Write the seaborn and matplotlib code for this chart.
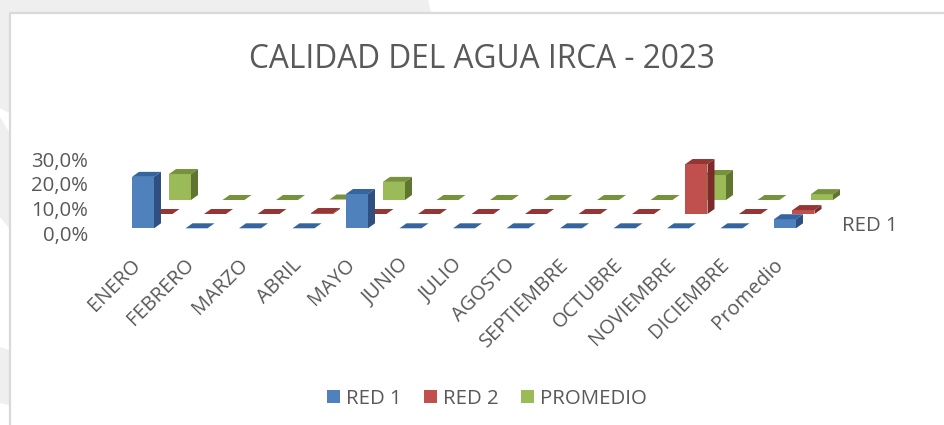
import matplotlib
matplotlib.use("Agg")
import matplotlib.pyplot as plt
from matplotlib.patches import Polygon, Rectangle
import pandas as pd
import seaborn as sns

months = ["ENERO", "FEBRERO", "MARZO", "ABRIL", "MAYO", "JUNIO", "JULIO", "AGOSTO",
          "SEPTIEMBRE", "OCTUBRE", "NOVIEMBRE", "DICIEMBRE", "Promedio"]
red1 = [21.0, 0, 0, 0, 14.0, 0, 0, 0, 0, 0, 0, 0, 3.7]
red2 = [0, 0, 0, 0.4, 0, 0, 0, 0, 0, 0, 20.4, 0, 1.6]
promedio = [10.6, 0, 0, 0.2, 7.4, 0, 0, 0, 0, 0, 10.2, 0, 2.4]
series_names = ["RED 1", "RED 2", "PROMEDIO"]
y_ticks = [0, 10, 20, 30]
y_labels = ["0,0%", "10,0%", "20,0%", "30,0%"]
title = "CALIDAD DEL AGUA IRCA - 2023"
depth_label = "RED 1"

W, H = 945, 425
sns.set_theme(style="white")
plt.rcParams["font.family"] = ["Open Sans", "DejaVu Sans"]
TXT = "#595959"
fig = plt.figure(figsize=(W / 100, H / 100), dpi=100, facecolor="white")

# page background and chart frame
bg = fig.add_axes([0, 0, 1, 1], zorder=0)
bg.set_xlim(0, W); bg.set_ylim(H, 0); bg.axis("off")
GREY = "#efefef"
bg.add_patch(Polygon([(0, 0), (428, 0), (431, 12), (0, 12)], fc=GREY, ec="none"))
bg.add_patch(Polygon([(0, 12), (9, 12), (9, 113), (0, 108)], fc=GREY, ec="none"))
bg.add_patch(Polygon([(0, 117), (9, 132), (9, 228), (0, 217)], fc=GREY, ec="none"))
bg.add_patch(Polygon([(0, 347), (9, 350), (9, 405), (0, 403)], fc=GREY, ec="none"))
bg.plot([9.5, 9.5, W], [H, 12.5, 12.5], color="#d9d9d9", lw=1.6)

BAND = 53.5
PX_PER_UNIT = 2.45
X0 = 116.25
BAR = 22
DX, DY = 7, 5
layers = [
    (promedio, "PROMEDIO", 37, 200, "#9bbb59", "#76923c", "#5f7530"),
    (red2, "RED 2", 18.5, 214, "#c0504d", "#963634", "#7b2c2a"),
    (red1, "RED 1", 0, 228.3, "#4f81bd", "#35659f", "#2f4f7f"),
]
handles = {}
for z, (vals, name, xo, base, front, top, side) in enumerate(layers, start=1):
    ax = fig.add_axes([(X0 + xo) / W, (H - base) / H, 13 * BAND / W, 30 * PX_PER_UNIT / H],
                      zorder=z, facecolor="none")
    df = pd.DataFrame({"m": months, "v": vals})
    sns.barplot(data=df, x="m", y="v", color=front, saturation=1, width=BAR / BAND,
                linewidth=0, edgecolor="none", ax=ax, legend=False)
    ax.set_xlim(-0.5, 12.5); ax.set_ylim(0, 30)
    ax.set_xlabel(""); ax.set_ylabel("")
    ax.set_xticks([]); ax.set_yticks([])
    for s in ax.spines.values():
        s.set_visible(False)
    ddx, ddy = DX / BAND, DY / PX_PER_UNIT
    for bar in list(ax.patches):
        x0, w, h = bar.get_x(), bar.get_width(), bar.get_height()
        x1 = x0 + w
        ax.add_patch(Polygon([(x0, h), (x1, h), (x1 + ddx, h + ddy), (x0 + ddx, h + ddy)],
                             fc=top, ec="none", clip_on=False))
        if h > 0:
            ax.add_patch(Polygon([(x1, 0), (x1 + ddx, ddy), (x1 + ddx, h + ddy), (x1, h)],
                                 fc=side, ec="none", clip_on=False))
    handles[name] = Rectangle((0, 0), 1, 1, fc=front, ec="none")

# category labels, anchored up and to the left of the bars as the 3-D projection places them
label_ax = fig.add_axes([(X0 - 12) / W, (H - 255) / H, 13 * BAND / W, 10 / H], zorder=5, facecolor="none")
label_ax.set_xlim(-0.5, 12.5)
label_ax.set_yticks([])
label_ax.set_xticks(range(13))
label_ax.set_xticklabels(months, rotation=45, ha="right", rotation_mode="anchor",
                         fontsize=14.4, color=TXT)
label_ax.tick_params(axis="x", length=0, pad=0)
for s in label_ax.spines.values():
    s.set_visible(False)

# value axis: labels sit a little below the depth floor, as in the 3-D original
tick_ax = fig.add_axes([92 / W, (H - 233) / H, 10 / W, 30 * PX_PER_UNIT / H], zorder=5, facecolor="none")
tick_ax.set_ylim(0, 30)
tick_ax.set_xticks([])
tick_ax.set_yticks(y_ticks)
tick_ax.set_yticklabels(y_labels, fontsize=14.7, color=TXT)
tick_ax.tick_params(axis="y", length=0, pad=3)
for s in tick_ax.spines.values():
    s.set_visible(False)

fig.text(482 / W, 1 - 59 / H, title, ha="center", va="center", fontsize=22.8, color=TXT, zorder=10)
fig.text(870 / W, 1 - 226 / H, depth_label, ha="center", va="center", fontsize=14.7, color=TXT, zorder=10)

fig.legend([handles[n] for n in series_names], series_names, loc="center", ncol=3,
           bbox_to_anchor=(487 / W, 1 - 398.5 / H), frameon=False, fontsize=14.7, labelcolor=TXT,
           handlelength=0.64, handleheight=0.64, handletextpad=0.3, columnspacing=1.08)

fig.savefig("out.png", dpi=100)
